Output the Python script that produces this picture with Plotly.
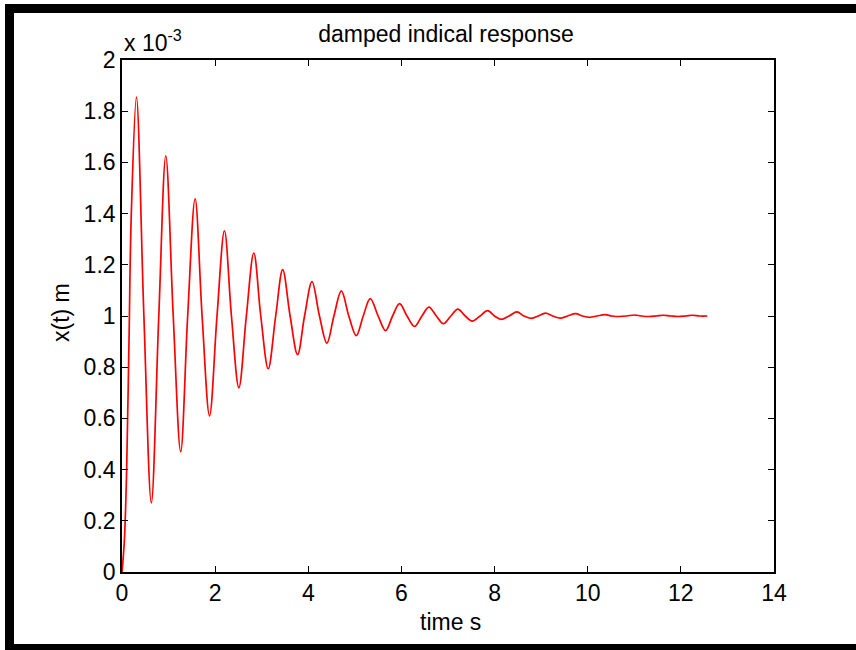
import plotly.graph_objects as go

# Values (x(t) in units of 1e-3 m, time in s)
start_t = [0.0, 0.05, 0.10, 0.15, 0.20]
start_x = [0.0, 0.12, 0.40, 0.90, 1.40]

peak_t = [0.31, 0.94, 1.57, 2.20, 2.83, 3.45, 4.08, 4.71, 5.33, 5.96,
          6.59, 7.21, 7.85, 8.48, 9.09, 9.74, 10.37, 11.00, 11.62, 12.25]
peak_x = [1.855, 1.626, 1.458, 1.333, 1.246, 1.181, 1.134, 1.098, 1.068, 1.048,
          1.035, 1.027, 1.021, 1.016, 1.011, 1.009, 1.005, 1.004, 1.003, 1.003]

trough_t = [0.63, 1.26, 1.88, 2.51, 3.14, 3.77, 4.40, 5.03, 5.66, 6.28,
            6.90, 7.52, 8.14, 8.79, 9.41, 10.04, 10.68, 11.31, 11.94, 12.57]
trough_x = [0.27, 0.47, 0.61, 0.72, 0.794, 0.849, 0.894, 0.923, 0.943, 0.959,
            0.970, 0.980, 0.987, 0.991, 0.992, 0.995, 0.998, 0.998, 0.998, 1.000]

cross_t = [0.47, 0.79, 1.10, 1.41, 1.72, 2.04, 2.35, 2.67, 2.98, 3.30,
           3.61, 3.92, 4.24, 4.55, 4.87, 5.18, 5.50, 5.81, 6.12, 6.44,
           6.75, 7.06, 7.37, 7.69, 8.00, 8.31, 8.63, 8.94, 9.25, 9.57,
           9.89, 10.20, 10.52, 10.84, 11.15, 11.47, 11.78, 12.10, 12.41]
cross_x = [1.0] * len(cross_t)

x_ticks = [0, 2, 4, 6, 8, 10, 12, 14]
y_ticks = [0, 0.2, 0.4, 0.6, 0.8, 1.0, 1.2, 1.4, 1.6, 1.8, 2.0]
y_ticktext = ["0", "0.2", "0.4", "0.6", "0.8", "1", "1.2", "1.4", "1.6", "1.8", "2"]

pts = sorted(zip(start_t + peak_t + trough_t + cross_t,
                 start_x + peak_x + trough_x + cross_x))
t_all = [p[0] for p in pts]
x_all = [p[1] for p in pts]

FONT = "Liberation Sans, Arial, Helvetica, sans-serif"
FS = 23

fig = go.Figure()
fig.add_trace(go.Scatter(x=t_all, y=x_all, mode="lines",
                         line=dict(color="#ff0000", width=1.7, shape="spline", smoothing=1.0),
                         showlegend=False, hoverinfo="x+y"))

W, H = 856, 650
L, R, T, B = 122, 82, 60, 78
pw, ph = W - L - R, H - T - B

def px(x):
    return (x - L) / pw

def py(y):
    return (H - B - y) / ph

axis_common = dict(showline=True, linecolor="black", linewidth=1.6, mirror="ticks",
                   ticks="inside", ticklen=6, tickwidth=1.2, tickcolor="black",
                   showgrid=False, zeroline=False,
                   tickfont=dict(family=FONT, size=FS, color="black"))

fig.update_layout(
    width=W, height=H,
    margin=dict(l=L, r=R, t=T, b=B),
    paper_bgcolor="white", plot_bgcolor="white",
    xaxis=dict(range=[0, 14], tickvals=x_ticks, **axis_common),
    yaxis=dict(range=[0, 2], tickvals=y_ticks, ticktext=y_ticktext, **axis_common),
    title=dict(text="damped indical response", x=px(446), xref="paper", xanchor="center",
               y=1 - 34 / H, yref="container", yanchor="middle",
               font=dict(family=FONT, size=FS, color="black")),
    annotations=[
        dict(text="x 10<sup>-3</sup>", xref="paper", yref="paper", x=0, y=1,
             xanchor="left", yanchor="bottom", yshift=2, showarrow=False,
             font=dict(family=FONT, size=FS, color="black")),
        dict(text="time s", xref="paper", yref="paper", x=px(450), y=py(622),
             xanchor="center", yanchor="middle", showarrow=False,
             font=dict(family=FONT, size=FS, color="black")),
        dict(text="x(t) m", xref="paper", yref="paper", x=px(61), y=py(313),
             xanchor="center", yanchor="middle", showarrow=False, textangle=-90,
             font=dict(family=FONT, size=FS, color="black")),
    ],
    shapes=[
        dict(type="rect", xref="paper", yref="paper", x0=px(5), x1=px(856), y0=py(4), y1=py(13),
             fillcolor="black", line=dict(width=0), layer="above"),
        dict(type="rect", xref="paper", yref="paper", x0=px(5), x1=px(14), y0=py(4), y1=py(650),
             fillcolor="black", line=dict(width=0), layer="above"),
        dict(type="rect", xref="paper", yref="paper", x0=px(5), x1=px(856), y0=py(644), y1=py(650),
             fillcolor="black", line=dict(width=0), layer="above"),
    ],
)

fig.write_html("out.html", config={"displayModeBar": False},
               post_script="document.body.style.margin='0';document.body.style.padding='0';")
